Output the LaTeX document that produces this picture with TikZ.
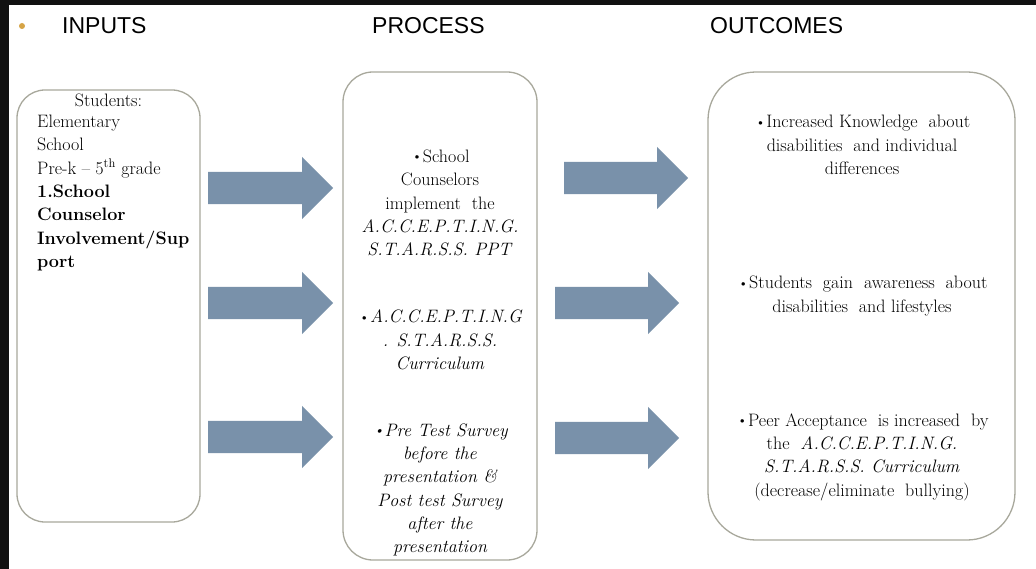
\documentclass[tikz,border=0pt]{standalone}
\usepackage{fontspec}
\newfontfamily\headfont{Liberation Sans}
\usepackage{xcolor}
\usepackage{tikz}
\usetikzlibrary{shapes.arrows}
\usetikzlibrary{positioning}
\definecolor{arrowblue}{RGB}{121,145,170}
\definecolor{boxline}{RGB}{168,168,156}
\definecolor{bulletgold}{RGB}{214,164,70}
\definecolor{framedark}{RGB}{17,17,17}
\newcommand{\bul}{\kern0.1em\raisebox{1.6pt}{\fontsize{13}{13}\selectfont\textbullet}\kern0.05em}
\tikzset{
  stagebox/.style={draw=boxline, line width=1.3pt, fill=white, rectangle, inner sep=0pt},
  flowarrow/.style={single arrow, fill=arrowblue, draw=none, inner xsep=0pt, inner ysep=16pt,
    single arrow head extend=15pt, minimum height=125pt, anchor=tail},
  heading/.style={font=\headfont\fontsize{23}{27}\selectfont, anchor=west, inner sep=0pt},
  boxtext/.style={font=\fontsize{18}{23.3}\selectfont, align=center, inner sep=0pt}
}

\begin{document}
\begin{tikzpicture}[x=1pt,y=-1pt,transform shape,scale=1]
		\useasboundingbox (0,0) rectangle (1036,569);
		\fill[white] (0,0) rectangle (1036,569);
		\fill[framedark] (0,0) rectangle (1036,5);
		\fill[framedark] (0,0) rectangle (9,569);
		% titles
		\node[circle, fill=bulletgold, inner sep=0pt, minimum size=6pt] (dot) at (22,26) {};
		\node[heading] (intitle) at (62,26) {INPUTS};
		\node[heading] (proctitle) at (372,26) {PROCESS};
		\node[heading] (outtitle) at (710,26) {OUTCOMES};
		% three boxes
		\node[stagebox, rounded corners=28pt, minimum width=183pt, minimum height=432pt] (inputs) at (108.5,306) {};
		\node[stagebox, rounded corners=30pt, minimum width=194pt, minimum height=488pt] (process) at (440,316) {};
		\node[stagebox, rounded corners=48pt, minimum width=307pt, minimum height=468pt] (outcomes) at (861.5,306) {};
		% inputs
		\node[boxtext] (students) at (108.5,100) {Students:};
		\node[boxtext, align=left, anchor=west] (inlist) at (37,193) {Elementary\\School\\Pre-k -- 5\textsuperscript{th} grade\\\textbf{1.School}\\\textbf{Counselor}\\\textbf{Involvement/Sup}\\\textbf{port}};
		% process
		\node[boxtext] (proc1) at (440,203) {\bul School\\Counselors\\implement\ \ the\\\textit{A.C.C.E.P.T.I.N.G.}\\\textit{S.T.A.R.S.S. PPT}};
		\node[boxtext] (proc2) at (440,340) {\bul\textit{A.C.C.E.P.T.I.N.G}\\\textit{. S.T.A.R.S.S.}\\\textit{Curriculum}};
		\node[boxtext, font=\fontsize{18}{23.3}\selectfont\itshape] (proc3) at (440,490) {\bul Pre Test Survey\\before the\\presentation \&\\Post test Survey\\after the\\presentation};
		% outcomes
		\node[boxtext] (out1) at (862,145) {\bul Increased Knowledge\ \ about\\disabilities\ \ and individual\\differences};
		\node[boxtext] (out2) at (862,296) {\bul Students\ \ gain\ \ awareness\ \ about\\disabilities\ \ and lifestyles};
		\node[boxtext] (out3) at (862,457) {\bul Peer Acceptance\ \ is increased\ \ by\\the\ \ \textit{A.C.C.E.P.T.I.N.G.}\\\textit{S.T.A.R.S.S. Curriculum}\\(decrease/eliminate\ \ bullying)};
		% arrows
		\node[flowarrow] (inarrow1) at (208,188) {};
		\node[flowarrow] (inarrow2) at (208,303) {};
		\node[flowarrow] (inarrow3) at (208,437) {};
		\node[flowarrow, minimum height=124pt] (outarrow1) at (564,178) {};
		\node[flowarrow, minimum height=124pt] (outarrow2) at (555,303) {};
		\node[flowarrow, minimum height=124pt] (outarrow3) at (555,438) {};
	\end{tikzpicture}
\end{document}
